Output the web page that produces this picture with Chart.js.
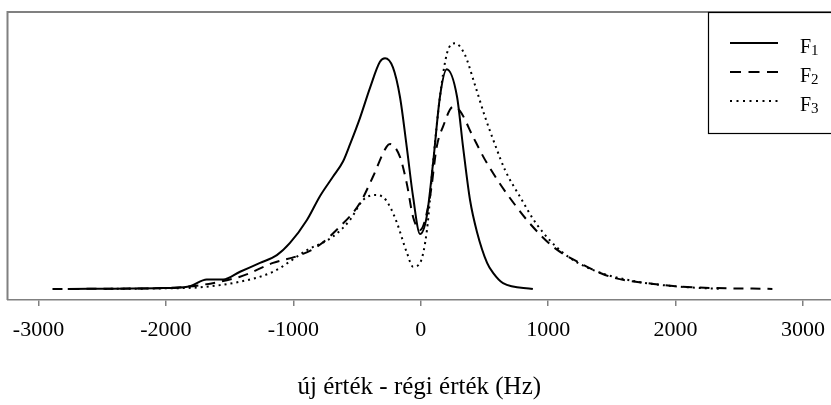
<!DOCTYPE html>
<html>
<head>
<meta charset="utf-8">
<script src="https://cdn.jsdelivr.net/npm/chart.js@4/dist/chart.umd.min.js"></script>
<style>
  html, body { margin: 0; padding: 0; background: #fff; overflow: hidden; }
  #wrap { width: 831px; height: 405px; }
</style>
</head>
<body>
<div id="wrap"><canvas id="c" width="831" height="405"></canvas></div>
<script>
// Frequency shift (Hz) and relative density for the three distributions
const hzF1  = [-2770, -2020, -1810, -1680, -1550, -1418, -1261, -1129, -1026, -893, -791, -689, -610, -555, -477, -398, -320, -280, -218, -163, -110, -60, -5, 47, 97, 151, 204, 285, 332, 387, 442, 521, 568, 646, 880];
const valF1 = [0, 0.003, 0.01, 0.034, 0.034, 0.062, 0.094, 0.122, 0.166, 0.249, 0.335, 0.405, 0.46, 0.522, 0.617, 0.726, 0.82, 0.833, 0.80, 0.694, 0.514, 0.333, 0.198, 0.261, 0.455, 0.694, 0.793, 0.694, 0.514, 0.321, 0.205, 0.094, 0.058, 0.021, 0];

const hzF2  = [-2890, -2020, -1418, -1159, -948, -815, -634, -477, -375, -267, -241, -163, -110, -60, -5, 73, 126, 175, 254, 309, 411, 505, 623, 741, 859, 1040, 1252, 1487, 1775, 2090, 2760];
const valF2 = [0, 0.003, 0.044, 0.094, 0.122, 0.152, 0.225, 0.31, 0.405, 0.514, 0.523, 0.477, 0.382, 0.26, 0.213, 0.333, 0.514, 0.586, 0.658, 0.642, 0.549, 0.466, 0.379, 0.303, 0.235, 0.152, 0.093, 0.044, 0.021, 0.007, 0];

const hzF3  = [-2480, -2020, -1730, -1418, -1159, -893, -689, -555, -453, -359, -296, -241, -186, -108, -60, -5, 49, 97, 151, 207, 270, 347, 426, 505, 584, 662, 780, 914, 1118, 1354, 1700, 2040, 2350];
const valF3 = [0, 0.002, 0.006, 0.026, 0.062, 0.14, 0.189, 0.249, 0.321, 0.339, 0.332, 0.297, 0.238, 0.13, 0.08, 0.094, 0.213, 0.455, 0.694, 0.852, 0.887, 0.845, 0.736, 0.621, 0.52, 0.429, 0.332, 0.231, 0.13, 0.068, 0.026, 0.008, 0];

const tickValues = [-3000, -2000, -1000, 0, 1000, 2000, 3000];
const seriesNames = ['F1', 'F2', 'F3'];
const axisTitle = 'új érték - régi érték (Hz)';

const SERIF = '"Liberation Serif", "DejaVu Serif", serif';
const AXIS_GRAY = '#808080';

function toPoints(xs, ys) { return xs.map((x, i) => ({ x: x, y: ys[i] })); }

const lineDashes = [[], [10, 7], [2, 4]];
const legendDashes = [[], [11, 7.5], [2, 4.5]];

// Frame (top + left) and the boxed legend with subscripted labels
const framePlugin = {
  id: 'frame',
  afterDraw(chart) {
    const ctx = chart.ctx;
    const a = chart.chartArea;
    ctx.save();
    ctx.strokeStyle = AXIS_GRAY;
    ctx.lineWidth = 2;
    ctx.beginPath();
    ctx.moveTo(a.left, a.bottom);
    ctx.lineTo(a.left, a.top);
    ctx.lineTo(chart.width + 5, a.top);
    ctx.stroke();

    // legend box
    const bx = 708.5, by = 12.5, bh = 121;
    ctx.fillStyle = '#fff';
    ctx.fillRect(bx, by, chart.width - bx + 5, bh);
    ctx.strokeStyle = '#000';
    ctx.lineWidth = 1.2;
    ctx.strokeRect(bx, by, chart.width - bx + 10, bh);

    const rows = [43, 72, 101];
    rows.forEach((y, i) => {
      ctx.strokeStyle = '#000';
      ctx.lineWidth = 2;
      ctx.setLineDash(legendDashes[i]);
      ctx.beginPath();
      ctx.moveTo(730, y);
      ctx.lineTo(778, y);
      ctx.stroke();
      ctx.setLineDash([]);
      ctx.fillStyle = '#000';
      ctx.textBaseline = 'alphabetic';
      ctx.textAlign = 'left';
      ctx.font = '20px ' + SERIF;
      const name = seriesNames[i];
      ctx.fillText(name.charAt(0), 800, y + 10);
      const w = ctx.measureText(name.charAt(0)).width;
      ctx.font = '15px ' + SERIF;
      ctx.fillText(name.slice(1), 800 + w, y + 12);
    });
    ctx.restore();
  }
};

new Chart(document.getElementById('c'), {
  type: 'scatter',
  data: {
    datasets: [
      { label: seriesNames[0], data: toPoints(hzF1, valF1) },
      { label: seriesNames[1], data: toPoints(hzF2, valF2) },
      { label: seriesNames[2], data: toPoints(hzF3, valF3) }
    ].map((d, i) => Object.assign(d, {
      showLine: true,
      borderColor: '#000',
      borderWidth: 2,
      pointRadius: 0,
      cubicInterpolationMode: 'monotone',
      borderDash: lineDashes[i],
      fill: false
    }))
  },
  options: {
    responsive: false,
    devicePixelRatio: 1,
    animation: false,
    events: [],
    layout: { padding: { left: 7.5, right: 0, top: 12, bottom: 0 } },
    plugins: { legend: { display: false }, tooltip: { enabled: false } },
    scales: {
      x: {
        type: 'linear',
        min: -3243,
        max: 3220,
        afterBuildTicks(scale) { scale.ticks = tickValues.map(v => ({ value: v })); },
        afterFit(scale) {
          scale.height = 105;
          scale.paddingLeft = 0;
          scale.paddingRight = 0;
        },
        ticks: {
          color: '#000',
          font: { family: SERIF, size: 22 },
          padding: 11,
          maxRotation: 0,
          autoSkip: false,
          callback: v => String(v)
        },
        grid: { display: true, drawOnChartArea: false, drawTicks: true, tickLength: 6, color: AXIS_GRAY, lineWidth: 1.5 },
        border: { display: true, color: AXIS_GRAY, width: 1.5 },
        title: {
          display: true,
          text: axisTitle,
          color: '#000',
          font: { family: SERIF, size: 25 },
          padding: { top: 0, bottom: 3 }
        }
      },
      y: {
        display: false,
        min: -0.04,
        max: 1.0
      }
    }
  },
  plugins: [framePlugin]
});
</script>
</body>
</html>
